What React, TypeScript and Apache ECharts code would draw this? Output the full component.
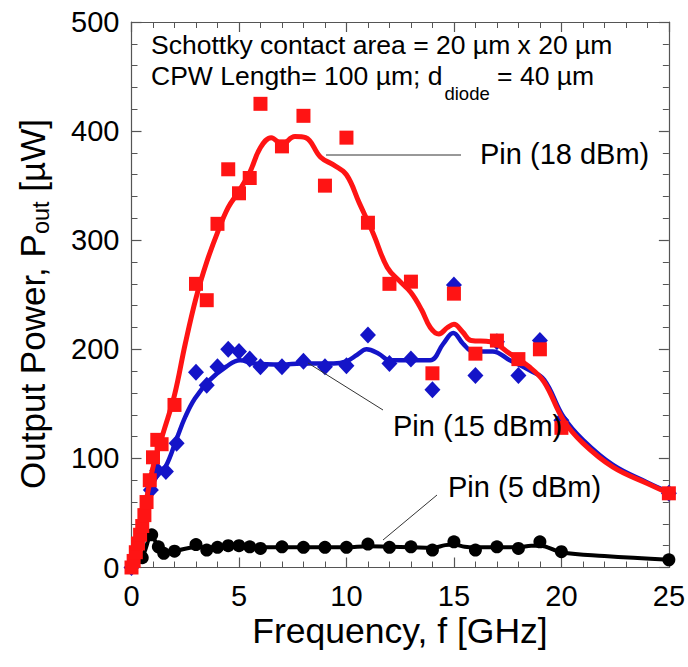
import React, { useEffect, useRef } from 'react';
import * as echarts from 'echarts';

// ---------- data ----------
const xTicks = [0, 5, 10, 15, 20, 25];
const yTicks = [0, 100, 200, 300, 400, 500];

// Pin = 18 dBm, measured points
const redFreq = [0, 0.1, 0.2, 0.3, 0.4, 0.5, 0.6, 0.7, 0.85, 1.0, 1.2, 1.4, 2, 3, 3.5, 4, 4.5, 5, 5.5, 6, 7, 8, 9, 10, 11, 12, 13, 14, 15, 16, 17, 18, 19, 20, 25];
const redPower = [0, 6, 14, 22, 30, 38, 48, 60, 80, 101, 117, 113, 149, 260, 245, 315, 365, 343, 357, 425, 386, 414, 350, 394, 316, 260, 262, 178, 251, 196, 208, 191, 200, 128, 68];
// Pin = 18 dBm, fitted curve
const redFitFreq = [0, 0.5, 1, 1.5, 2, 2.5, 3, 3.5, 4, 4.5, 5, 5.5, 6, 6.5, 7, 7.6, 8.1, 8.8, 9.4, 10, 10.6, 11.25, 11.9, 12.5, 13, 13.5, 13.9, 14.3, 14.7, 15, 15.4, 15.8, 16.7, 17.6, 18.5, 19.2, 20.1, 21, 22.4, 24, 25];
const redFitPower = [0, 42, 92, 125, 158, 205, 247, 280, 307, 330, 345, 362, 385, 394, 388, 395, 394, 376, 369, 360, 334, 306, 275, 262, 252, 236, 220, 214, 220, 223, 216, 208, 207, 196, 184, 170, 135, 114, 92, 77, 68];

// Pin = 15 dBm
const blueFreq = [0, 0.9, 1.2, 1.6, 2.1, 3, 3.5, 4, 4.5, 5, 5.5, 6, 7, 8, 9, 10, 11, 12, 13, 14, 15, 16, 17, 18, 19, 20, 25];
const bluePower = [0, 71, 89, 88, 114, 179, 167, 184, 200, 198, 191, 184, 184, 189, 184, 185, 213, 187, 191, 163, 259, 176, 207, 176, 208, 135, 68];
const blueFitFreq = [0, 0.5, 0.9, 1.3, 1.6, 2.1, 2.5, 2.95, 3.65, 4.4, 5.05, 5.7, 7, 7.9, 9.4, 10, 10.5, 10.94, 11.5, 12, 13, 13.9, 14.5, 14.97, 15.43, 15.9, 16.8, 17.6, 18.5, 19.2, 20.1, 21, 22.4, 24, 25];
const blueFitPower = [0, 38, 72, 88, 93, 118, 138, 155, 172, 184, 190, 187, 186, 187, 187, 189, 195, 200, 196, 190, 190, 190, 205, 215, 205, 198, 198, 190, 181, 172, 138, 117, 94, 78, 69];

// Pin = 5 dBm
const blackFreq = [0, 0.5, 0.94, 1.25, 1.5, 2, 3, 3.5, 4, 4.5, 5, 5.5, 6, 7, 8, 9, 10, 11, 12, 13, 14, 15, 16, 17, 18, 19, 20, 25];
const blackPower = [0, 9, 30, 19, 13, 15, 21, 16, 18.5, 20, 20, 19, 17.5, 19, 18.5, 18.5, 18.5, 21.5, 18.5, 19, 16, 23.5, 16, 19, 17.5, 23.5, 14.5, 7];
const blackFitFreq = [0, 0.5, 0.94, 1.25, 1.6, 2, 3, 4, 5, 6, 7, 8, 9, 10, 11, 12, 13, 14, 14.6, 15, 15.5, 16, 17, 18, 18.6, 19, 20, 22, 25];
const blackFitPower = [0, 10, 29, 19, 14, 15, 18.5, 18.5, 19, 18.5, 18.5, 18.5, 18.5, 18.5, 19.5, 19, 18.5, 18, 20.5, 21, 19, 18.5, 18.5, 18.5, 20, 20, 14, 10.5, 7];

const FONT = "'Liberation Sans', Arial, Helvetica, sans-serif";
const RED = '#ff1414';
const BLUE = '#1414c8';
const AXIS = '#555555';

const pairs = (xs: number[], ys: number[]) => xs.map((x, i) => [x, ys[i]]);

function measure(text: string, size: number): number {
  const c = document.createElement('canvas').getContext('2d');
  if (!c) return text.length * size * 0.55;
  c.font = `${size}px ${FONT}`;
  return c.measureText(text).width;
}

export default function App() {
  const ref = useRef<HTMLDivElement>(null);

  useEffect(() => {
    if (!ref.current) return;
    const chart = echarts.init(ref.current, null, { renderer: 'svg' });

    const axisCommon = {
      type: 'value' as const,
      axisLine: { show: true, onZero: false, lineStyle: { color: AXIS, width: 1.2 } },
      axisTick: { show: true, inside: true, length: 10, lineStyle: { color: AXIS, width: 1.2 } },
      minorTick: { show: true, splitNumber: 5, length: 6, lineStyle: { color: AXIS, width: 1 } },
      splitLine: { show: false },
    };

    // ---- text layout helpers ----
    const topSize = 26.5;
    const subSize = 18.5;
    const l2a = 'CPW Length= 100 \u00b5m; d';
    const l2b = 'diode';
    const l2c = ' = 40 \u00b5m';
    const wA = measure(l2a, topSize);
    const wB = measure(l2b, subSize);

    const yTitleSize = 35;
    const yTitleSub = 23.5;
    const yt1 = 'Output Power, P';
    const yt2 = 'out';
    const yt3 = ' [\u00b5W]';
    const w1 = measure(yt1, yTitleSize);
    const w2 = measure(yt2, yTitleSub);
    const w3 = measure(yt3, yTitleSize);
    const yTitleCenter = 304;
    const yTitleX = 32;
    const y0 = yTitleCenter + (w1 + w2 + w3) / 2;

    const txt = (text: string, x: number, y: number, size: number, extra: any = {}) => ({
      type: 'text',
      x,
      y,
      z: 100,
      ...extra,
      style: {
        text,
        fill: '#000',
        font: `${size}px ${FONT}`,
        textAlign: 'left',
        textVerticalAlign: 'middle',
        ...(extra.style || {}),
      },
    });

    const option: any = {
      animation: false,
      backgroundColor: '#fff',
      grid: { left: 131.5, right: 18.7, top: 22, bottom: 99.5, containLabel: false },
      xAxis: [
        {
          ...axisCommon,
          position: 'bottom',
          min: xTicks[0],
          max: xTicks[xTicks.length - 1],
          interval: xTicks[1] - xTicks[0],
          axisLabel: { margin: 14, fontSize: 29, color: '#000', fontFamily: FONT },
        },
        {
          ...axisCommon,
          position: 'top',
          min: xTicks[0],
          max: xTicks[xTicks.length - 1],
          interval: xTicks[1] - xTicks[0],
          axisLabel: { show: false },
        },
      ],
      yAxis: [
        {
          ...axisCommon,
          position: 'left',
          min: yTicks[0],
          max: yTicks[yTicks.length - 1],
          interval: yTicks[1] - yTicks[0],
          axisLabel: { margin: 12, fontSize: 29, color: '#000', fontFamily: FONT },
        },
        {
          ...axisCommon,
          position: 'right',
          min: yTicks[0],
          max: yTicks[yTicks.length - 1],
          interval: yTicks[1] - yTicks[0],
          axisLabel: { show: false },
        },
      ],
      series: [
        {
          name: 'Pin (5 dBm) fit',
          type: 'line',
          data: pairs(blackFitFreq, blackFitPower),
          showSymbol: false,
          smooth: 0.4,
          lineStyle: { color: '#000', width: 4 },
          z: 2,
        },
        {
          name: 'Pin (5 dBm)',
          type: 'scatter',
          data: pairs(blackFreq, blackPower),
          symbol: 'circle',
          symbolSize: 13,
          itemStyle: { color: '#000', opacity: 1 },
          z: 3,
        },
        {
          name: 'Pin (15 dBm) fit',
          type: 'line',
          data: pairs(blueFitFreq, blueFitPower),
          showSymbol: false,
          smooth: 0.4,
          lineStyle: { color: BLUE, width: 4.5 },
          z: 4,
        },
        {
          name: 'Pin (15 dBm)',
          type: 'scatter',
          data: pairs(blueFreq, bluePower),
          symbol: 'diamond',
          symbolSize: [16, 17],
          itemStyle: { color: BLUE, opacity: 1 },
          z: 5,
        },
        {
          name: 'Pin (18 dBm) fit',
          type: 'line',
          data: pairs(redFitFreq, redFitPower),
          showSymbol: false,
          smooth: 0.4,
          lineStyle: { color: RED, width: 5 },
          z: 6,
        },
        {
          name: 'Pin (18 dBm)',
          type: 'scatter',
          data: pairs(redFreq, redPower),
          symbol: 'rect',
          symbolSize: 14,
          itemStyle: { color: RED, opacity: 1 },
          z: 7,
        },
      ],
      graphic: [
        // leader lines
        { type: 'line', z: 90, shape: { x1: 326, y1: 155, x2: 461, y2: 155 }, style: { stroke: '#333', lineWidth: 1 } },
        { type: 'line', z: 90, shape: { x1: 308, y1: 363, x2: 383, y2: 410 }, style: { stroke: '#333', lineWidth: 1 } },
        { type: 'line', z: 90, shape: { x1: 437, y1: 495, x2: 383, y2: 540 }, style: { stroke: '#333', lineWidth: 1 } },
        // series labels
        txt('Pin (18 dBm)', 480, 154, 29),
        txt('Pin (15 dBm)', 393, 426, 29),
        txt('Pin (5 dBm)', 448, 487, 29),
        // top annotation
        txt('Schottky contact area = 20 \u00b5m x 20 \u00b5m', 151, 45, topSize),
        txt(l2a, 151, 76, topSize),
        txt(l2b, 151 + wA + 2, 93, subSize),
        txt(l2c, 151 + wA + 2 + wB, 76, topSize),
        // x axis title
        {
          type: 'text',
          x: 400,
          y: 631,
          z: 100,
          style: { text: 'Frequency, f [GHz]', fill: '#000', font: `35.5px ${FONT}`, textAlign: 'center', textVerticalAlign: 'middle' },
        },
        // y axis title (rotated, with subscript)
        txt(yt1, yTitleX, y0, yTitleSize, { rotation: Math.PI / 2 }),
        txt(yt2, yTitleX + 9, y0 - w1, yTitleSub, { rotation: Math.PI / 2 }),
        txt(yt3, yTitleX, y0 - w1 - w2, yTitleSize, { rotation: Math.PI / 2 }),
      ],
    };

    chart.setOption(option);
    return () => chart.dispose();
  }, []);

  return (
    <div
      ref={ref}
      style={{ position: 'fixed', left: 0, top: 0, width: 688, height: 667, background: '#fff' }}
    />
  );
}
